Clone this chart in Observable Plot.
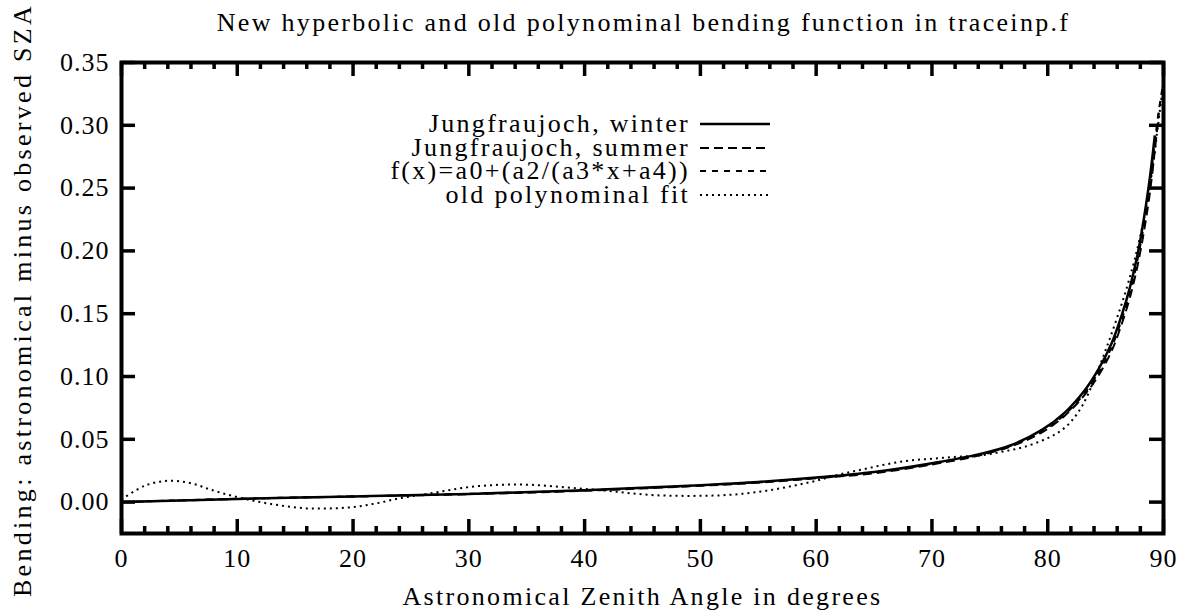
<!DOCTYPE html>
<html>
<head>
<meta charset="utf-8">
<script src="https://cdn.jsdelivr.net/npm/d3@7"></script>
<script src="https://cdn.jsdelivr.net/npm/@observablehq/plot@0.6"></script>
<style>
  body { margin: 0; background: #fff; }
  #page { position: relative; width: 1187px; height: 614px; font-family: "Liberation Serif", serif; color: #000; overflow: hidden; }
  #title { position: relative; z-index: 2; height: 40px; font-size: 26px; line-height: 46px; text-align: center; padding-left: 100px; box-sizing: border-box; width: 1187px; letter-spacing: 2.3px; white-space: nowrap; }
  #chart svg { overflow: visible; display: block; }
  #legend { position: absolute; left: 0; top: 112px; width: 1187px; font-size: 26px; letter-spacing: 2.3px; }
  .row { position: relative; height: 23.7px; }
  .row span { position: absolute; display: block; right: 497px; top: 0; height: 23px; line-height: 23px; white-space: nowrap; }
  .row svg { position: absolute; left: 700px; top: 0; }
</style>
</head>
<body>
<div id="page">
  <div id="title"></div>
  <div id="chart"></div>
  <div id="legend"></div>
</div>
<script>
// ---------------- data ----------------
const titleText = "New hyperbolic and old polynominal bending function in traceinp.f";
const xLabelText = "Astronomical Zenith Angle in degrees";
const yLabelText = "Bending: astronomical minus observed SZA";

const xMajorTicks = [0, 10, 20, 30, 40, 50, 60, 70, 80, 90];
const xMinorTicks = [2, 4, 6, 8, 12, 14, 16, 18, 22, 24, 26, 28, 32, 34, 36, 38, 42, 44, 46, 48, 52, 54, 56, 58, 62, 64, 66, 68, 72, 74, 76, 78, 82, 84, 86, 88];
const yMajorTicks = [0, 0.05, 0.10, 0.15, 0.20, 0.25, 0.30, 0.35];

const seriesNames = ["Jungfraujoch, winter", "Jungfraujoch, summer", "f(x)=a0+(a2/(a3*x+a4))", "old polynominal fit"];

const winterX = [0, 10, 20, 30, 40, 50, 55, 60, 65, 70, 74, 77, 79.5, 81.5, 83.2, 84.4, 85.5, 86.4, 87.1, 87.8, 88.7, 89.25];
const winterY = [0, 0.0025, 0.0045, 0.0065, 0.0095, 0.0135, 0.016, 0.0195, 0.024, 0.031, 0.038, 0.046, 0.0575, 0.0715, 0.089, 0.106, 0.126, 0.149, 0.171, 0.199, 0.25, 0.292];

const summerX = [0, 10, 20, 30, 40, 50, 55, 60, 65, 70, 74, 77, 79.5, 81.5, 83.2, 84.4, 85.5, 86.4, 87.1, 87.8, 88.7, 89.25, 89.6];
const summerY = [0, 0.0025, 0.0045, 0.0063, 0.009, 0.013, 0.0155, 0.019, 0.023, 0.030, 0.037, 0.045, 0.0555, 0.069, 0.0855, 0.101, 0.120, 0.142, 0.163, 0.19, 0.238, 0.28, 0.31];

const hyperX = [0, 10, 20, 30, 40, 50, 55, 60, 65, 70, 74, 77, 79.5, 81.5, 83.2, 84.4, 85.5, 86.4, 87.1, 87.8, 88.7, 89.25, 89.6, 90];
const hyperY = [0, 0.0027, 0.0045, 0.0066, 0.0093, 0.0133, 0.016, 0.0193, 0.0237, 0.0305, 0.0375, 0.0455, 0.0565, 0.070, 0.087, 0.1035, 0.123, 0.1455, 0.167, 0.195, 0.244, 0.287, 0.312, 0.335];

const polyX = [0, 2, 4, 6, 8, 10, 12, 14, 16, 18, 20, 22, 24, 26, 28, 30, 32, 34, 36, 38, 40, 42, 44, 46, 48, 50, 52, 54, 56, 58, 60, 62, 64, 66, 68, 70, 72, 74, 76, 78, 80, 81, 82, 83, 84, 85, 86, 87, 88, 89, 89.5, 90];
const polyY = [0.002, 0.013, 0.017, 0.015, 0.009, 0.004, 0.000, -0.003, -0.005, -0.005, -0.004, -0.001, 0.003, 0.006, 0.009, 0.012, 0.0135, 0.014, 0.0135, 0.012, 0.0105, 0.009, 0.007, 0.0055, 0.005, 0.005, 0.0055, 0.007, 0.0095, 0.013, 0.017, 0.022, 0.026, 0.030, 0.033, 0.0345, 0.036, 0.037, 0.040, 0.044, 0.051, 0.056, 0.064, 0.077, 0.097, 0.121, 0.147, 0.176, 0.212, 0.262, 0.298, 0.335];

// ---------------- styles ----------------
const styles = [
  {strokeWidth: 2.5, strokeDasharray: null},
  {strokeWidth: 2, strokeDasharray: "9,5"},
  {strokeWidth: 2, strokeDasharray: "6,6"},
  {strokeWidth: 2, strokeDasharray: "2,4"}
];

const toPts = (xs, ys) => xs.map((x, i) => ({x, y: ys[i]}));
const series = [toPts(winterX, winterY), toPts(summerX, summerY), toPts(hyperX, hyperY), toPts(polyX, polyY)];

// ---------------- layout ----------------
const W = 1187, H = 574;
const mT = 22, mB = 81, mL = 121, mR = 24;
const innerH = H - mT - mB, innerW = W - mL - mR;
const font = "Liberation Serif";

document.getElementById("title").textContent = titleText;

const lineMarks = series.map((pts, i) => Plot.line(pts, {
  x: "x", y: "y", stroke: "black", curve: "catmull-rom",
  strokeWidth: styles[i].strokeWidth,
  strokeDasharray: styles[i].strokeDasharray,
  strokeLinecap: "butt"
}));

const chart = Plot.plot({
  width: W, height: H,
  marginTop: mT, marginBottom: mB, marginLeft: mL, marginRight: mR,
  style: {fontSize: "26px", fontFamily: font, color: "black", background: "white", overflow: "visible"},
  x: {domain: [0, 90], label: null},
  y: {domain: [-0.025, 0.35], label: null},
  marks: [
    ...lineMarks,
    // inward ticks bottom
    Plot.tickX(xMajorTicks, {x: d => d, insetTop: innerH - 14, strokeWidth: 3.5}),
    Plot.tickX(xMinorTicks, {x: d => d, insetTop: innerH - 7, strokeWidth: 3.5}),
    // inward ticks top
    Plot.tickX(xMajorTicks, {x: d => d, insetBottom: innerH - 14, strokeWidth: 3.5}),
    Plot.tickX(xMinorTicks, {x: d => d, insetBottom: innerH - 7, strokeWidth: 3.5}),
    // inward ticks left / right
    Plot.tickY(yMajorTicks, {y: d => d, insetRight: innerW - 14, strokeWidth: 3.5}),
    Plot.tickY(yMajorTicks, {y: d => d, insetLeft: innerW - 14, strokeWidth: 3.5}),
    Plot.frame({strokeWidth: 4}),
    Plot.axisX(xMajorTicks, {tickSize: 0, tickPadding: 15, label: null, tickFormat: d => String(d)}),
    Plot.axisY(yMajorTicks, {anchor: "left", tickSize: 0, tickPadding: 12, label: null, tickFormat: d3.format(".2f")}),
    Plot.text([xLabelText], {frameAnchor: "bottom", dy: 71, text: d => d}),
    Plot.text([yLabelText], {frameAnchor: "left", dx: -99, dy: 2, rotate: -90, textAnchor: "middle", text: d => d})
  ]
});
chart.querySelectorAll("text").forEach(t => {
  const s = t.textContent;
  if (s === xLabelText) t.setAttribute("letter-spacing", "2.3px");
  else if (s === yLabelText) t.setAttribute("letter-spacing", "3.3px");
  else t.setAttribute("letter-spacing", "1px");
});
document.getElementById("chart").appendChild(chart);

// ---------------- legend ----------------
const legend = document.getElementById("legend");
seriesNames.forEach((name, i) => {
  const row = document.createElement("div");
  row.className = "row";
  const span = document.createElement("span");
  span.textContent = name;
  row.appendChild(span);
  const svg = d3.create("svg").attr("width", 72).attr("height", 24);
  svg.append("line").attr("x1", 0).attr("x2", 70).attr("y1", 12).attr("y2", 12)
    .attr("stroke", "black").attr("stroke-width", styles[i].strokeWidth)
    .attr("stroke-dasharray", styles[i].strokeDasharray);
  row.appendChild(svg.node());
  legend.appendChild(row);
});
</script>
</body>
</html>
